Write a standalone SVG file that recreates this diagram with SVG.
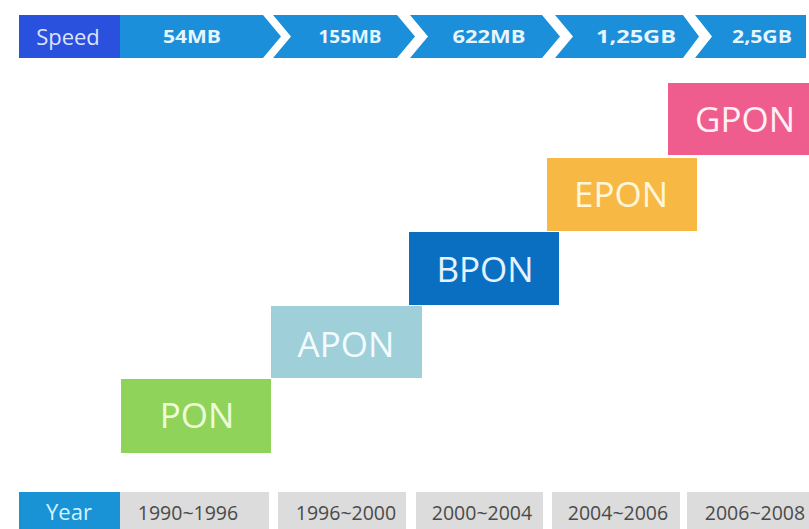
<svg xmlns="http://www.w3.org/2000/svg" width="809" height="529" viewBox="0 0 809 529">
  <style>
    .seg { fill: #1b8fda; }
    .speed-lbl { font-family: "Open Sans", "Liberation Sans", sans-serif; font-weight: 700; font-size: 17px; fill: #e6f6ff; text-anchor: middle; }
    .head { font-family: "Open Sans", "Liberation Sans", sans-serif; font-size: 22px; text-anchor: middle; }
    .step text { font-family: "Open Sans", "Liberation Sans", sans-serif; font-size: 35px; text-anchor: middle; }
    .yr rect { fill: #dcdcdc; }
    .yr text { font-family: "Open Sans", "Liberation Sans", sans-serif; font-size: 19.5px; fill: #4a4a4a; text-anchor: middle; }
  </style>
  <rect width="809" height="529" fill="#ffffff"/>

  <!-- speed bar -->
  <g id="speed-bar">
    <rect x="19" y="15" width="101" height="43" fill="#2a50de"/>
    <text class="head" x="68" y="45" fill="#dde4ff">Speed</text>
    <polygon class="seg" points="120,15 263,15 281,36.5 263,58 120,58"/>
    <polygon class="seg" points="273,15 397,15 415,36.5 397,58 273,58 291,36.5"/>
    <polygon class="seg" points="410,15 542,15 560,36.5 542,58 410,58 428,36.5"/>
    <polygon class="seg" points="555,15 683,15 699,36.5 683,58 555,58 573,36.5"/>
    <polygon class="seg" points="695,15 806,15 806,58 695,58 712,36.5"/>
    <text class="speed-lbl" x="192" y="43" textLength="58" lengthAdjust="spacingAndGlyphs">54MB</text>
    <text class="speed-lbl" x="350" y="43" textLength="63" lengthAdjust="spacingAndGlyphs">155MB</text>
    <text class="speed-lbl" x="489" y="43" textLength="73" lengthAdjust="spacingAndGlyphs">622MB</text>
    <text class="speed-lbl" x="636" y="43" textLength="80" lengthAdjust="spacingAndGlyphs">1,25GB</text>
    <text class="speed-lbl" x="762" y="43" textLength="60" lengthAdjust="spacingAndGlyphs">2,5GB</text>
  </g>

  <!-- technology steps -->
  <g id="pon" class="step">
    <rect x="121" y="379" width="150" height="74" fill="#8fd35b"/>
    <text x="197" y="428" fill="#eefbd8">PON</text>
  </g>
  <g id="apon" class="step">
    <rect x="271" y="306" width="151" height="72" fill="#9fcfd9"/>
    <text x="346" y="357" fill="#f0fcff">APON</text>
  </g>
  <g id="bpon" class="step">
    <rect x="409" y="232" width="150" height="73" fill="#0b6fc1"/>
    <text x="485" y="282" fill="#e4f3ff">BPON</text>
  </g>
  <g id="epon" class="step">
    <rect x="547" y="158" width="150" height="73" fill="#f8b944"/>
    <text x="621" y="207" fill="#fff6dc">EPON</text>
  </g>
  <g id="gpon" class="step">
    <rect x="668" y="83" width="141" height="72" fill="#ee5d8e"/>
    <text x="745" y="132" fill="#fff0f4">GPON</text>
  </g>

  <!-- year row -->
  <g id="year-row">
    <rect x="19" y="492" width="101" height="37" fill="#1a93d6"/>
    <text class="head" x="69" y="520" fill="#d6f2ff">Year</text>
    <g class="yr">
      <rect x="120" y="492" width="149" height="37"/>
      <text x="188" y="520">1990~1996</text>
      <rect x="278" y="492" width="128" height="37"/>
      <text x="346" y="520">1996~2000</text>
      <rect x="416" y="492" width="127" height="37"/>
      <text x="482" y="520">2000~2004</text>
      <rect x="552" y="492" width="128" height="37"/>
      <text x="618" y="520">2004~2006</text>
      <rect x="687" y="492" width="122" height="37"/>
      <text x="755" y="520">2006~2008</text>
    </g>
  </g>
</svg>
